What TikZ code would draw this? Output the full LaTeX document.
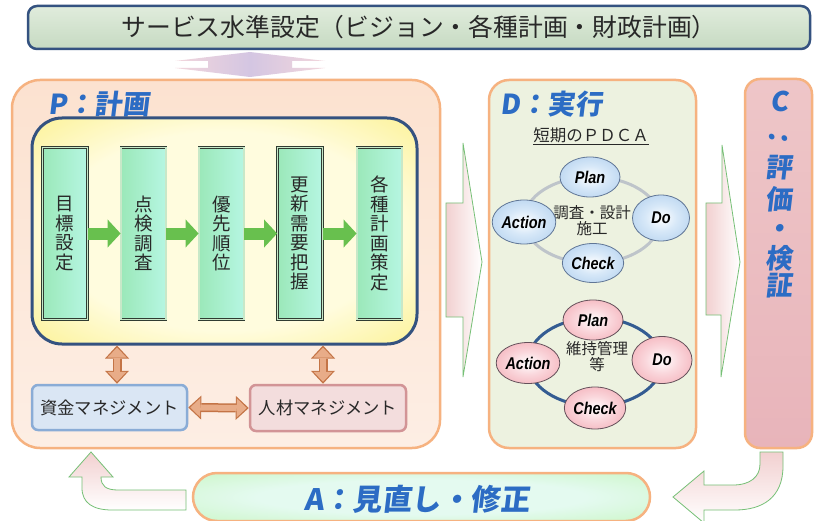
\documentclass[tikz,border=0pt]{standalone}
\usepackage{fontspec}
\setmainfont{Noto Sans CJK JP}
\newfontfamily\lblfont[FakeSlant=0.12]{Noto Sans CJK JP}
\newfontfamily\pdcafont[FakeStretch=0.85]{Liberation Sans}
\usetikzlibrary{arrows.meta,shapes.geometric,calc}
\definecolor{lblblue}{RGB}{44,108,196}
\definecolor{orB}{RGB}{246,178,128}
\definecolor{peachT}{RGB}{252,226,208}
\definecolor{peachB}{RGB}{253,238,228}
\definecolor{navyB}{RGB}{52,82,128}
\definecolor{bannerT}{RGB}{224,236,220}
\definecolor{bannerB}{RGB}{198,218,194}
\definecolor{ylight}{RGB}{255,252,222}
\definecolor{ydark}{RGB}{249,232,78}
\definecolor{mintL}{RGB}{155,232,185}
\definecolor{mintR}{RGB}{182,246,226}
\definecolor{gboxB}{RGB}{48,60,50}
\definecolor{gboxD}{RGB}{200,232,200}
\definecolor{garrC}{RGB}{104,192,78}
\definecolor{oarrB}{RGB}{196,116,70}
\definecolor{oarrF}{RGB}{232,172,136}
\definecolor{fundF}{RGB}{218,230,244}
\definecolor{fundB}{RGB}{138,172,214}
\definecolor{hrF}{RGB}{243,221,221}
\definecolor{hrB}{RGB}{210,148,150}
\definecolor{dF}{RGB}{237,242,224}
\definecolor{cT}{RGB}{238,198,200}
\definecolor{cM}{RGB}{250,236,236}
\definecolor{cB}{RGB}{232,180,186}
\definecolor{aE}{RGB}{186,244,170}
\definecolor{aC}{RGB}{228,250,240}
\definecolor{ringG}{RGB}{190,196,202}
\definecolor{ringB}{RGB}{52,92,146}
\definecolor{bluOut}{RGB}{150,190,230}
\definecolor{bluMid}{RGB}{215,232,248}
\definecolor{bluB}{RGB}{96,118,150}
\definecolor{pinkOut}{RGB}{238,140,152}
\definecolor{pinkMid}{RGB}{250,215,220}
\definecolor{pinkB}{RGB}{100,80,90}
\definecolor{arrPink}{RGB}{242,208,208}
\definecolor{arrGreen}{RGB}{118,192,118}
\definecolor{lavC}{RGB}{212,198,226}
\definecolor{lavE}{RGB}{242,214,220}
\definecolor{txt}{RGB}{40,40,40}
\pgfdeclareradialshading{yelshade}{\pgfpoint{0bp}{0bp}}{color(0bp)=(ylight); color(22bp)=(ylight); color(50bp)=(ydark); color(72bp)=(ydark)}
\pgfdeclareradialshading{bshade}{\pgfpoint{0bp}{0bp}}{color(0bp)=(white); color(14bp)=(bluMid); color(48bp)=(bluOut); color(72bp)=(bluOut)}
\pgfdeclareradialshading{pshade}{\pgfpoint{0bp}{0bp}}{color(0bp)=(white); color(14bp)=(pinkMid); color(48bp)=(pinkOut); color(72bp)=(pinkOut)}
\pgfdeclareradialshading{ashade}{\pgfpoint{0bp}{0bp}}{color(0bp)=(aC); color(18bp)=(aC); color(50bp)=(aE); color(72bp)=(aE)}
\begin{document}
\begin{tikzpicture}[x=1pt,y=-1pt,
  lbl/.style={font=\lblfont\bfseries\fontsize{27.5}{27.5}\selectfont, text=lblblue, inner sep=0},
  ctext/.style={font=\lblfont\bfseries\fontsize{27}{27}\selectfont, text=lblblue, inner sep=0},
  banner/.style={draw=navyB, line width=2.5pt, rounded corners=9pt, top color=bannerT, bottom color=bannerB,
     minimum width=782pt, minimum height=43pt, inner sep=0, text=txt, font=\fontsize{24.8}{24.8}\selectfont},
  bigbox/.style={draw=orB, line width=2.5pt, inner sep=0},
  gbox/.style={draw=gboxB, double=gboxD, double distance=1.1pt, line width=0.8pt, left color=mintL, right color=mintR,
     minimum width=45pt, minimum height=172pt, inner sep=0, align=center, text=txt, font=\fontsize{18.5}{19.5}\selectfont},
  garr/.style={draw=garrC, line width=12pt, -{Triangle[width=28pt,length=13pt,line width=0pt]}},
  oarrO/.style={draw=oarrB, line width=9pt, {Triangle[width=24pt,length=13pt,line width=0pt]}-{Triangle[width=24pt,length=13pt,line width=0pt]}},
  oarrI/.style={draw=oarrF, line width=6pt, {Triangle[width=19pt,length=10pt,line width=0pt]}-{Triangle[width=19pt,length=10pt,line width=0pt]}, shorten <=2pt, shorten >=2pt},
  mbox/.style={line width=2.5pt, rounded corners=6pt, inner sep=0, text=txt, font=\fontsize{17.3}{17.3}\selectfont},
  bell/.style={ellipse, draw=bluB, line width=0.8pt, shading=bshade, inner sep=0, text=black, font=\pdcafont\bfseries\itshape\fontsize{17}{17}\selectfont},
  pell/.style={ellipse, draw=pinkB, line width=0.8pt, shading=pshade, inner sep=0, text=black, font=\pdcafont\bfseries\itshape\fontsize{17}{17}\selectfont},
  ctr/.style={inner sep=0, align=center, text=txt, font=\fontsize{15.5}{16}\selectfont},
  curvarr/.style={draw=arrGreen, line width=0.8pt, top color=arrPink, bottom color=white},
  bigarr/.style={draw=arrGreen, line width=0.8pt, left color=arrPink, right color=white}
]
\clip (0,0) rectangle (818,521);
\fill[white] (0,0) rectangle (818,521);

% top banner
\node[banner] (svc) at (419,27.5) {サービス水準設定（ビジョン・各種計画・財政計画）};

% lavender double arrow between banner and P
\path[left color=lavE, right color=lavE, middle color=lavC]
  (250,52) -- (325,61) -- (292,61) -- (292,68) -- (325,68) -- (250,77) -- (175,68) -- (208,68) -- (208,61) -- (175,61) -- cycle;

% P box
\node[bigbox, rounded corners=28pt, top color=peachT, bottom color=peachB, minimum width=428pt, minimum height=368pt] (P) at (226,264) {};
\node[lbl, anchor=west] (Plbl) at (48,104) {P：計画};

% yellow box
\node[draw=navyB, line width=3pt, rounded corners=30pt, shading=yelshade, minimum width=385pt, minimum height=226pt, inner sep=0] (Y) at (224.5,231) {};

% green step boxes
\node[gbox] (b1) at (65,233.5) {目\\標\\設\\定};
\node[gbox] (b2) at (143.5,233.5) {点\\検\\調\\査};
\node[gbox] (b3) at (221.5,233.5) {優\\先\\順\\位};
\node[gbox] (b4) at (300,233.5) {更\\新\\需\\要\\把\\握};
\node[gbox] (b5) at (379.5,233.5) {各\\種\\計\\画\\策\\定};
\draw[garr] (b1.east) -- (b2.west);
\draw[garr] (b2.east) -- (b3.west);
\draw[garr] (b3.east) -- (b4.west);
\draw[garr] (b4.east) -- (b5.west);

% management boxes
\node[mbox, draw=fundB, fill=fundF, minimum width=155pt, minimum height=45pt] (F) at (109.5,407.5) {資金マネジメント};
\node[mbox, draw=hrB, fill=hrF, minimum width=156pt, minimum height=46pt] (H) at (328,408) {人材マネジメント};
\coordinate (ox1) at (117,0);
\coordinate (ox2) at (323,0);
\draw[oarrO] (Y.south -| ox1) -- (F.north -| ox1);
\draw[oarrI] (Y.south -| ox1) -- (F.north -| ox1);
\draw[oarrO] (Y.south -| ox2) -- (H.north -| ox2);
\draw[oarrI] (Y.south -| ox2) -- (H.north -| ox2);
\draw[oarrO] (F.east) -- (H.west);
\draw[oarrI] (F.east) -- (H.west);

% big arrows P -> D -> C
\path[bigarr] (446,203) -- (463,203) -- (463,143) -- (482,262) -- (463,377) -- (463,317) -- (446,317) -- cycle;
\path[bigarr] (706,203) -- (722,203) -- (722,145) -- (740,262) -- (721,377) -- (721,315) -- (706,315) -- cycle;

% D box
\node[bigbox, rounded corners=20pt, fill=dF, minimum width=207pt, minimum height=368pt] (D) at (592.5,264) {};
\node[lbl, anchor=west] (Dlbl) at (500,104) {D：実行};
\node[inner sep=0, text=txt, font=\fontsize{16.5}{16.5}\selectfont] (st) at (591,136) {\underline{短期のＰＤＣＡ}};

% short-term cycle
\coordinate (r1) at (592,220);
\draw[ringG, line width=3pt] (r1) ellipse [x radius=68pt, y radius=43pt];
\node[ctr] (c1) at (592,221) {調査・設計\\施工};
\node[bell, minimum width=60pt, minimum height=40pt] (p1) at (590,177) {Plan};
\node[bell, minimum width=58pt, minimum height=44pt] (a1) at (524,222) {Action};
\node[bell, minimum width=57pt, minimum height=46pt] (d1) at (661,218) {Do};
\node[bell, minimum width=60pt, minimum height=39pt] (k1) at (593,263) {Check};

% maintenance cycle
\coordinate (r2) at (595,362);
\draw[ringB, line width=3pt] (r2) ellipse [x radius=67pt, y radius=44pt];
\node[ctr] (c2) at (597,357) {維持管理\\等};
\node[pell, minimum width=60pt, minimum height=40pt] (p2) at (593,320) {Plan};
\node[pell, minimum width=57pt, minimum height=41pt] (a2) at (528,363) {Action};
\node[pell, minimum width=60pt, minimum height=47pt] (d2) at (662,360) {Do};
\node[pell, minimum width=58pt, minimum height=42pt] (k2) at (595,408) {Check};

% C box
\node[bigbox, rounded corners=15pt, top color=cT, middle color=cM, bottom color=cB, minimum width=67pt, minimum height=369pt] (C) at (778.5,263.5) {};
\node[ctext] (cl1) at (779,101) {C};
\node[ctext, rotate=90] (cl2) at (779,139) {：};
\node[ctext] (cl3) at (779,168) {評};
\node[ctext] (cl4) at (779,199) {価};
\node[ctext] (cl5) at (779,231) {・};
\node[ctext] (cl6) at (779,258) {検};
\node[ctext] (cl7) at (779,286) {証};

% A box
\node[draw=orB, line width=2.5pt, rounded corners=24pt, shading=ashade, minimum width=457pt, minimum height=48pt, inner sep=0] (A) at (421.5,497) {};
\node[lbl, font=\lblfont\bfseries\fontsize{29.5}{29.5}\selectfont] (Albl) at (417,499) {A：見直し・修正};

% curved arrows
\path[curvarr] (783,452) -- (783,466) .. controls (783,498) and (762,510) .. (735,510) -- (704,510) -- (704,523) -- (673,497) -- (704,471) -- (704,485) -- (733,485) .. controls (750,485) and (760,477) .. (760,464) -- (760,452) -- cycle;
\path[curvarr] (186,490) -- (118,490) .. controls (106,490) and (101,486) .. (101,477) -- (113,477) -- (91,452) -- (69,477) -- (82,477) -- (82,488) .. controls (82,503) and (93,510) .. (112,510) -- (186,510) -- cycle;
\end{tikzpicture}
\end{document}
